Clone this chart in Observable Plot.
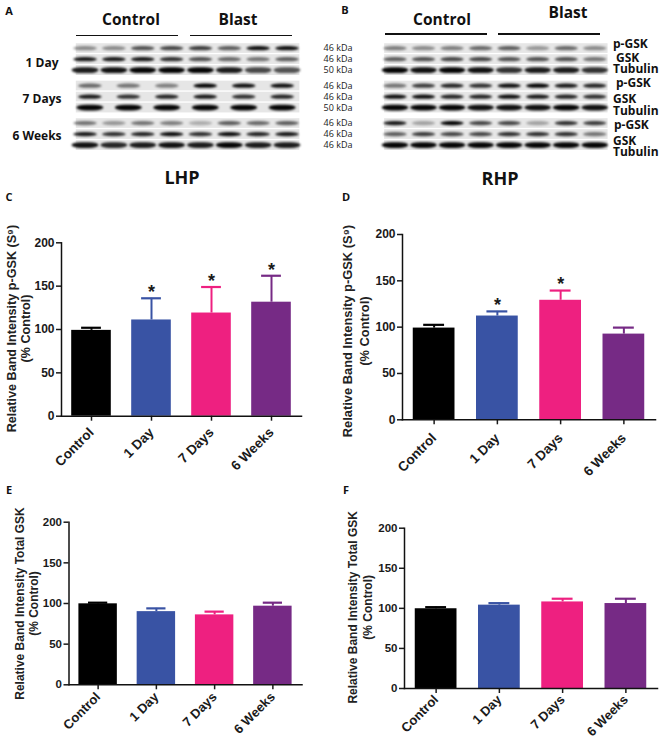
<!DOCTYPE html>
<html>
<head>
<meta charset="utf-8">
<script src="https://cdn.jsdelivr.net/npm/d3@7"></script>
<script src="https://cdn.jsdelivr.net/npm/@observablehq/plot@0.6"></script>
<style>
  html, body { margin: 0; padding: 0; background: #fff; }
  #page { position: relative; width: 661px; height: 738px; overflow: hidden; }
  #page svg { position: absolute; }
  .t { position: absolute; font-family: "Open Sans", sans-serif; font-weight: 700; color: #111; white-space: nowrap; transform: translate(-50%, -50%); line-height: 0.9; }
  .l { transform: translate(0, -50%); }
</style>
</head>
<body>
<div id="page"></div>
<script>
// ---------- data ----------
const groups = ["Control", "1 Day", "7 Days", "6 Weeks"];
const groupColors = ["#000000", "#3953a4", "#ee2080", "#762a85"];

const meanC = [99, 111, 119, 131.5];
const capC  = [102, 136, 149, 162];
const starC = ["1 Day", "7 Days", "6 Weeks"];

const meanD = [99, 112, 129, 92.5];
const capD  = [102.5, 117, 139.5, 99.5];
const starD = ["1 Day", "7 Days"];

const meanE = [99.6, 90, 86, 96.7];
const capE  = [101, 94, 90, 101];

const meanF = [99.5, 104, 108, 106];
const capF  = [101.5, 106.5, 112, 112];

const rowsLabelA = ["46 kDa","46 kDa","50 kDa","46 kDa","46 kDa","50 kDa","46 kDa","46 kDa","46 kDa"];
const timeLabels = ["1 Day", "7 Days", "6 Weeks"];
const rowNamesB = ["p-GSK","GSK","Tubulin","p-GSK","GSK","Tubulin","p-GSK","GSK","Tubulin"];

const bandsA = [
  [.4,.4,.65,.7,.75,.6,.95,.95],
  [.9,.9,.9,.8,.65,.55,.5,.6],
  [.9,.95,1,1,1,.9,.7,.65],
  [.55,.5,.45,1,.95,.95],
  [.9,.8,.85,.9,.8,.85],
  [1,1,1,1,1,1],
  [.5,.35,.5,.45,.25,.6,.55,.6],
  [.9,.8,.85,.95,.8,.95,.85,.9],
  [.95,.85,.9,.95,.9,1,.9,.9]
];
const bandsB = [
  [.45,.4,.45,.55,.6,.35,.55,.4],
  [.6,.65,.7,.7,.65,.65,.65,.5],
  [1,.95,1,.95,.8,.9,.9,.8],
  [.5,.75,.85,.8,.95,1,.9,.85],
  [.95,.95,.85,.85,.95,.9,.85,.8],
  [1,1,1,.95,.95,.95,1,.95],
  [.9,.3,1,.7,.7,.3,.8,.75],
  [.6,.75,.7,.7,.8,.8,.8,.5],
  [1,1,1,1,1,1,1,1]
];

// ---------- helpers ----------
const page = document.getElementById("page");
const FONT = '"Liberation Sans", Arial, sans-serif';

function label(text, x, y, size, cls) {
  const d = document.createElement("div");
  d.className = "t" + (cls ? " " + cls : "");
  d.textContent = text;
  d.style.left = x + "px";
  d.style.top = y + "px";
  d.style.fontSize = size + "px";
  page.appendChild(d);
}

function place(svg, left, top) {
  svg.style.left = left + "px";
  svg.style.top = top + "px";
  page.appendChild(svg);
}

function barPanel({left, top, x0, x1, yTop, yZero, width, bottom, means, caps, stars = [], title, titleX, titleDy, lineHeight, size, titleSize, xPad, xSize}) {
  const rows = groups.map((g, i) => ({group: g, mean: means[i], cap: caps[i]}));
  const starred = rows.filter(d => stars.includes(d.group));
  const bw = (x1 - x0) / 4 * 0.66;
  const svg = Plot.plot({
    width, height: bottom - top,
    marginLeft: x0 - left, marginRight: left + width - x1,
    marginTop: yTop - top, marginBottom: bottom - yZero,
    style: {fontFamily: FONT, fontSize: size + "px", fontWeight: 700, color: "#1a1a1a", background: "none"},
    x: {domain: groups, paddingInner: 0.34, paddingOuter: 0.17, round: false, label: null},
    y: {domain: [0, 200], label: null},
    color: {domain: groups, range: groupColors},
    marks: [
      Plot.ruleX(rows, {x: "group", y1: "mean", y2: "cap", stroke: "group", strokeWidth: 2}),
      Plot.tickY(rows, {x: "group", y: "cap", stroke: "group", strokeWidth: 2.2, insetLeft: bw / 4, insetRight: bw / 4}),
      Plot.barY(rows, {x: "group", y: "mean", fill: "group"}),
      Plot.text(starred, {x: "group", y: "cap", text: () => "*", fontSize: 18, dy: -6, fill: "#1a1a1a"}),
      Plot.axisY({ticks: [0, 50, 100, 150, 200], tickSize: 5, tickPadding: 2, strokeWidth: 1.5, label: null, fill: "#1a1a1a"}),
      Plot.axisX({tickRotate: -45, tickSize: 5, tickPadding: xPad, strokeWidth: 1.5, label: null, fill: "#1a1a1a", fontSize: xSize}),
      Plot.frame({anchor: "left", strokeWidth: 1.5, stroke: "#111"}),
      Plot.frame({anchor: "bottom", strokeWidth: 1.5, stroke: "#111"}),
      Plot.text([title], {frameAnchor: "left", textAnchor: "middle", rotate: -90, dx: titleX - x0, dy: titleDy, lineHeight, fill: "#222", fontSize: titleSize})
    ]
  });
  place(svg, left, top);
}

function blot({left, width, x0, x1, stripL, stripR, bands, extra = []}) {
  const rowY = i => i + Math.floor(i / 3) * 0.4;
  const strips = bands.map((_, i) => ({y1: rowY(i) + 0.02, y2: rowY(i) + 0.9}));
  const items = bands.flatMap((row, r) => row.map((v, i) => {
    const c = (i + 0.5) * 8 / row.length;
    const tub = r % 3 === 2;
    return {x1: c - (tub ? .47 : .41), x2: c + (tub ? .47 : .41), y1: rowY(r) + (tub ? .2 : .28), y2: rowY(r) + (tub ? .72 : .66), v};
  }));
  const svg = Plot.plot({
    width, height: 165, margin: 0, marginLeft: x0 - left, marginRight: left + width - x1,
    marginTop: 43, marginBottom: 165 - 151,
    style: {background: "none", fontFamily: '"Open Sans", sans-serif'},
    x: {type: "linear", domain: [0, 8], axis: null},
    y: {type: "linear", domain: [0, 9.8], reverse: true, axis: null},
    opacity: {type: "identity"},
    marks: [
      Plot.rect(strips, {x1: () => stripL, x2: () => stripR, y1: "y1", y2: "y2", fill: "#e6e6e6", imageFilter: "blur(0.5px)"}),
      Plot.rect(items, {x1: "x1", x2: "x2", y1: "y1", y2: "y2", fill: "#050505", fillOpacity: "v", rx: 10, ry: 3, imageFilter: "blur(0.9px)"}),
      ...extra.map(f => f(rowY))
    ]
  });
  place(svg, left, 0);
}

// ---------- blots ----------
blot({left: 0, width: 365, x0: 70.6, x1: 301.4, stripL: 0.18, stripR: 7.93, bands: bandsA,
  extra: [rowY => Plot.text(rowsLabelA, {x: () => 8.75, y: (_, i) => rowY(i) + 0.45, text: d => d, textAnchor: "start", fontSize: 9, fill: "#222"})]});
blot({left: 365, width: 296, x0: 380.7, x1: 609, stripL: 0.12, stripR: 7.95, bands: bandsB});

// header text and rules
label("Control", 131, 20, 15.5);
label("Blast", 238, 20, 15.5);
label("Control", 442, 20, 15.5);
label("Blast", 568, 13, 15.5);
const headerRule = (x1, x2, y) => {
  const d = document.createElement("div");
  d.style.cssText = `position:absolute;left:${x1}px;top:${y}px;width:${x2 - x1}px;height:1.6px;background:#111`;
  page.appendChild(d);
};
headerRule(76, 178, 34.5); headerRule(190, 292, 34.5);
headerRule(385, 487, 33); headerRule(498, 600, 33);

label(timeLabels[0], 42, 63, 12);
label(timeLabels[1], 42, 99, 12);
label(timeLabels[2], 37, 136, 12);

const rowNameX = [613, 616, 613, 616, 613, 613, 614, 613, 613];
const rowNameY = [44, 58, 69, 83, 99, 111, 125, 141, 152];
rowNamesB.forEach((t, i) => label(t, rowNameX[i], rowNameY[i], 12, "l"));

// panel letters and section titles
label("A", 9, 11, 11); label("B", 345, 10, 11);
label("C", 9, 197, 11); label("D", 346, 197, 11);
label("E", 9, 490, 11); label("F", 346, 490, 11);
label("LHP", 182, 177, 18); label("RHP", 500, 178, 18);

// ---------- bar panels ----------
barPanel({left: 0, top: 215, width: 330, bottom: 478, x0: 61, x1: 301, yTop: 242.3, yZero: 415.7,
  means: meanC, caps: capC, stars: starC, size: 12, titleSize: 12.6, xPad: 9, xSize: 13.5,
  title: "Relative Band Intensity p-GSK (S⁹)\n(% Control)", titleX: 18, titleDy: -1, lineHeight: 1.15});
barPanel({left: 335, top: 205, width: 326, bottom: 480, x0: 402, x1: 655, yTop: 234, yZero: 419.3,
  means: meanD, caps: capD, stars: starD, size: 12, titleSize: 12.9, xPad: 11, xSize: 13.5,
  title: "Relative Band Intensity p-GSK (S⁹)\n(% Control)", titleX: 355, titleDy: 4, lineHeight: 1.3});
barPanel({left: 0, top: 500, width: 330, bottom: 738, x0: 68.5, x1: 301.5, yTop: 521.7, yZero: 684.3,
  means: meanE, caps: capE, size: 11.5, titleSize: 12, xPad: 5, xSize: 13,
  title: "Relative Band Intensity Total GSK\n(% Control)", titleX: 26, titleDy: 0, lineHeight: 1.15});
barPanel({left: 335, top: 505, width: 326, bottom: 738, x0: 404, x1: 657, yTop: 527.7, yZero: 688,
  means: meanF, caps: capF, size: 11.5, titleSize: 12, xPad: 4, xSize: 13,
  title: "Relative Band Intensity Total GSK\n(% Control)", titleX: 359, titleDy: -1, lineHeight: 1.3});
</script>
</body>
</html>
